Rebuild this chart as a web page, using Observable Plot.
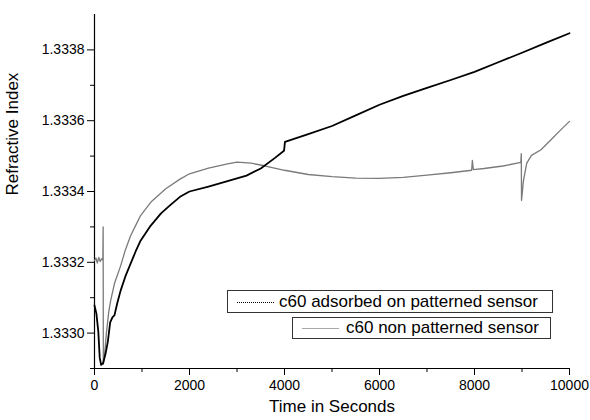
<!DOCTYPE html>
<html>
<head>
<meta charset="utf-8">
<script src="https://cdn.jsdelivr.net/npm/d3@7"></script>
<script src="https://cdn.jsdelivr.net/npm/@observablehq/plot@0.6"></script>
<style>
  html, body { margin: 0; padding: 0; background: #fff; }
  #wrap { position: relative; width: 590px; height: 420px; font-family: "Liberation Sans", Arial, sans-serif; }
  .lg { position: absolute; box-sizing: border-box; border: 1px solid #333; background: #fff; font-size: 17px; color: #000; white-space: nowrap; }
  .lg .smp { position: absolute; height: 0; }
  .lg .txt { position: absolute; top: 50%; transform: translateY(-52%); }
</style>
</head>
<body>
<div id="wrap"></div>
<script>
// ---- data ----
const patTime = [0, 40, 80, 110, 140, 180, 230, 280, 330, 380, 420, 480, 550, 650, 760, 870, 970, 1180, 1400, 1600, 1800, 2000, 2400, 2800, 3200, 3500, 3800, 3990, 4010, 4500, 5000, 5500, 6000, 6500, 7000, 7500, 8000, 8500, 9000, 9500, 10000];
const patValue = [1.333078, 1.333055, 1.333005, 1.332930, 1.332910, 1.332915, 1.332940, 1.332975, 1.333030, 1.333045, 1.333050, 1.333085, 1.333120, 1.333160, 1.333196, 1.333232, 1.333261, 1.333303, 1.333338, 1.333362, 1.333385, 1.333400, 1.333414, 1.333429, 1.333445, 1.333465, 1.333495, 1.333515, 1.333540, 1.333562, 1.333585, 1.333615, 1.333645, 1.333670, 1.333693, 1.333715, 1.333738, 1.333765, 1.333792, 1.333820, 1.333847];

const nonTime = [0, 30, 60, 90, 120, 150, 175, 182, 186, 210, 250, 300, 340, 420, 550, 650, 760, 870, 970, 1200, 1500, 1800, 2000, 2400, 2800, 3000, 3300, 3600, 4000, 4500, 5000, 5500, 6000, 6500, 7000, 7500, 7940, 7955, 7975, 8200, 8600, 8975, 8985, 8990, 9030, 9100, 9200, 9400, 9600, 9800, 10000];
const nonValue = [1.333205, 1.333212, 1.333198, 1.333214, 1.333202, 1.333210, 1.333206, 1.333300, 1.332912, 1.332935, 1.333000, 1.333060, 1.333092, 1.333140, 1.333190, 1.333235, 1.333275, 1.333305, 1.333332, 1.333372, 1.333408, 1.333435, 1.333450, 1.333466, 1.333478, 1.333483, 1.333480, 1.333472, 1.333460, 1.333448, 1.333442, 1.333438, 1.333437, 1.333440, 1.333446, 1.333453, 1.333460, 1.333488, 1.333462, 1.333465, 1.333472, 1.333482, 1.333507, 1.333375, 1.333430, 1.333480, 1.333502, 1.333518, 1.333545, 1.333572, 1.333598];

const seriesNames = ["c60 adsorbed on patterned sensor", "c60 non patterned sensor"];
const xMajorTicks = [0, 2000, 4000, 6000, 8000, 10000];
const xMinorTicks = [1000, 3000, 5000, 7000, 9000];
const yMajorTicks = [1.3330, 1.3332, 1.3334, 1.3336, 1.3338];
const yMinorTicks = [1.3329, 1.3331, 1.3333, 1.3335, 1.3337];
const xLabel = "Time in Seconds";
const yLabel = "Refractive Index";

const pat = patTime.map((t, i) => ({t, v: patValue[i]}));
const non = nonTime.map((t, i) => ({t, v: nonValue[i]}));

const chart = Plot.plot({
  width: 590,
  height: 420,
  marginLeft: 94,
  marginRight: 21,
  marginTop: 14,
  marginBottom: 52,
  x: {domain: [0, 10000]},
  y: {domain: [1.3329, 1.3339]},
  style: {fontFamily: '"Liberation Sans", Arial, sans-serif', fontSize: "14px", color: "#000", background: "transparent"},
  marks: [
    Plot.axisX({ticks: xMajorTicks, tickSize: 7, tickPadding: 5, tickFormat: d => String(d), label: null, fontSize: 14}),
    Plot.axisX({ticks: xMinorTicks, tickSize: 4, tickFormat: () => "", label: null}),
    Plot.axisY({ticks: yMajorTicks, tickSize: 7, tickPadding: 3, tickFormat: d => d.toFixed(4), label: null, fontSize: 14}),
    Plot.axisY({ticks: yMinorTicks, tickSize: 4, tickFormat: () => "", label: null}),
    Plot.ruleX([0], {stroke: "#000", strokeWidth: 1.2}),
    Plot.ruleY([1.3329], {stroke: "#000", strokeWidth: 1.2}),
    Plot.line(non, {x: "t", y: "v", stroke: "#7a7a7a", strokeWidth: 1.3}),
    Plot.line(pat, {x: "t", y: "v", stroke: "#000", strokeWidth: 1.8}),
    Plot.text([xLabel], {frameAnchor: "bottom", dy: 43, fontSize: 17, fill: "#000"}),
    Plot.text([yLabel], {frameAnchor: "left", dx: -82, dy: 4, rotate: -90, fontSize: 17, fill: "#000"})
  ]
});

const wrap = document.getElementById("wrap");
wrap.appendChild(chart);

// legend (HTML overlay)
const legendItems = [
  {name: seriesNames[0], left: 227, top: 290, w: 326, h: 23, sx: 9, sw: 37, tx: 51, dash: "1px dotted #000"},
  {name: seriesNames[1], left: 292, top: 317, w: 259, h: 22, sx: 9, sw: 37, tx: 53, dash: "1px solid #aaa"}
];
legendItems.forEach(it => {
  const box = document.createElement("div");
  box.className = "lg";
  Object.assign(box.style, {left: it.left + "px", top: it.top + "px", width: it.w + "px", height: it.h + "px"});
  const s = document.createElement("div");
  s.className = "smp";
  Object.assign(s.style, {left: it.sx + "px", width: it.sw + "px", top: (it.h / 2 - 1) + "px", borderTop: it.dash});
  const tx = document.createElement("span");
  tx.className = "txt";
  tx.style.left = it.tx + "px";
  tx.textContent = it.name;
  box.appendChild(s);
  box.appendChild(tx);
  wrap.appendChild(box);
});
</script>
</body>
</html>
